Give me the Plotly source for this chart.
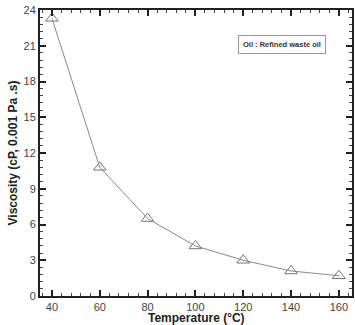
import plotly.graph_objects as go

temperature = [40, 60, 80, 100, 120, 140, 160]
viscosity = [23.3, 10.8, 6.5, 4.2, 3.0, 2.1, 1.7]
legend_text = "Oil : Refined waste oil"
x_title = "<b>Temperature (°C)</b>"
y_title = "<b>Viscosity (cP, 0.001 Pa .s)</b>"

fig = go.Figure()
fig.add_trace(go.Scatter(
    x=temperature, y=viscosity, mode="lines+markers",
    line=dict(color="#8a8a8a", width=1),
    marker=dict(symbol="triangle-up-open", size=11, color="#777777", line=dict(width=1)),
    showlegend=False,
))

axis_common = dict(
    showline=True, linecolor="#222222", linewidth=2, mirror="ticks",
    ticks="inside", ticklen=6, tickwidth=2, tickcolor="#222222",
    showgrid=False, zeroline=False, automargin=False,
    tickfont=dict(family="Liberation Sans, Arial", size=11, color="#444444"),
)

fig.update_xaxes(
    range=[35, 165.5], tickvals=[40, 60, 80, 100, 120, 140, 160],
    minor=dict(dtick=4, ticks="inside", ticklen=3, tickwidth=1, tickcolor="#444444", tick0=0),
    **axis_common,
)
fig.update_yaxes(
    range=[0, 24], tickvals=[0, 3, 6, 9, 12, 15, 18, 21, 24],
    minor=dict(dtick=0.6, ticks="inside", ticklen=3, tickwidth=1, tickcolor="#444444", tick0=0),
    title=dict(text=y_title, standoff=3,
               font=dict(family="Liberation Sans, Arial", size=12, color="#222222")),
    **axis_common,
)

fig.add_annotation(
    x=0.5, y=-0.078, xref="paper", yref="paper", xanchor="center", yanchor="middle",
    text=x_title, showarrow=False,
    font=dict(family="Liberation Sans, Arial", size=12, color="#222222"),
)

fig.add_annotation(
    x=0.776, y=0.879, xref="paper", yref="paper", xanchor="center", yanchor="middle",
    text="<b>" + legend_text + "</b>",
    showarrow=False, font=dict(family="Liberation Sans, Arial", size=7.5, color="#333333"),
    bordercolor="#999999", borderwidth=1, borderpad=4, bgcolor="white",
)

fig.update_layout(
    width=355, height=325,
    margin=dict(l=40, r=3, t=10, b=29),
    plot_bgcolor="white", paper_bgcolor="white",
)

fig.write_html("out.html")
